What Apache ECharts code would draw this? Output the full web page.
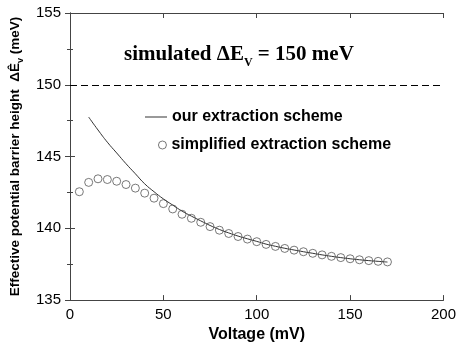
<!DOCTYPE html>
<html>
<head>
<meta charset="utf-8">
<script src="https://cdn.jsdelivr.net/npm/echarts@6/dist/echarts.min.js"></script>
<style>
  html, body { margin: 0; padding: 0; background: #fff; }
  #chart { width: 459px; height: 348px; }
</style>
</head>
<body>
<div id="chart"></div>
<script>
// Bias voltage (mV) and extracted barrier heights (meV)
const extractionVoltage = [10, 15, 20, 25, 30, 35, 40, 45, 50, 55, 60, 65, 70, 75, 80, 85, 90, 95, 100,
  105, 110, 115, 120, 125, 130, 135, 140, 145, 150, 155, 160, 165, 170];
const extractionBarrier = [147.75, 146.85, 146.0, 145.25, 144.5, 143.8, 143.1, 142.55, 142.05, 141.62,
  141.2, 140.85, 140.52, 140.2, 139.92, 139.68, 139.46, 139.27, 139.09,
  138.9, 138.75, 138.61, 138.49, 138.37, 138.26, 138.15, 138.05, 137.96, 137.88, 137.81, 137.75, 137.7, 137.65];

const simplifiedVoltage = [5, 10, 15, 20, 25, 30, 35, 40, 45, 50, 55, 60, 65, 70, 75, 80, 85, 90, 95, 100,
  105, 110, 115, 120, 125, 130, 135, 140, 145, 150, 155, 160, 165, 170];
const simplifiedBarrier = [142.55, 143.2, 143.45, 143.4, 143.28, 143.05, 142.8, 142.45, 142.1, 141.72,
  141.35, 140.98, 140.7, 140.42, 140.12, 139.87, 139.64, 139.43, 139.25, 139.07,
  138.88, 138.74, 138.6, 138.48, 138.37, 138.26, 138.15, 138.05, 137.96, 137.88, 137.81, 137.75, 137.7, 137.66];

const simulatedBarrier = 150;
const xTicks = { min: 0, max: 200, step: 50 };
const yTicks = { min: 135, max: 155, step: 5 };

const lineName = 'our extraction scheme';
const circleName = 'simplified extraction scheme';

const sans = 'Liberation Sans, Arial, Helvetica, sans-serif';
const serif = 'Liberation Serif, Times New Roman, serif';
const frameColor = '#444';
const curveColor = '#333';
const circleColor = '#444';

const pairs = (xs, ys) => xs.map((x, i) => [x, ys[i]]);

const chart = echarts.init(document.getElementById('chart'), null, { renderer: 'canvas' });

const frameAxis = {
  axisLine: { show: true, lineStyle: { color: frameColor, width: 1 } },
  axisTick: { show: true, inside: true, length: 5, lineStyle: { color: frameColor } },
  splitLine: { show: false }
};

const legendText = { fontFamily: sans, fontWeight: 'bold', fontSize: 16, color: '#000' };

chart.setOption({
  animation: false,
  backgroundColor: '#fff',
  title: {
    left: 119,
    top: 39,
    text: '{a|simulated \u0394E}{s|V}{a| = ' + simulatedBarrier + ' meV}',
    textStyle: {
      rich: {
        a: { fontFamily: serif, fontWeight: 'bold', fontSize: 21, color: '#000' },
        s: { fontFamily: serif, fontWeight: 'bold', fontSize: 12, color: '#000', verticalAlign: 'bottom', padding: [0, 0, -4, 0] }
      }
    }
  },
  grid: { left: 70, right: 12, top: 13, bottom: 46, containLabel: false },
  legend: [
    {
      data: [{ name: lineName, icon: 'rect', itemStyle: { color: curveColor, borderWidth: 0 } }],
      left: 145, top: 109, padding: 0,
      itemWidth: 22, itemHeight: 1,
      textStyle: legendText
    },
    {
      data: [{ name: circleName, icon: 'circle', itemStyle: { color: 'transparent', borderColor: circleColor, borderWidth: 0.9 } }],
      left: 158, top: 137, padding: 0,
      itemWidth: 8, itemHeight: 8,
      textStyle: legendText
    }
  ],
  xAxis: [
    Object.assign({
      type: 'value', position: 'bottom',
      min: xTicks.min, max: xTicks.max, interval: xTicks.step,
      axisLabel: { fontFamily: sans, fontSize: 15, color: '#000', margin: 7 },
      name: 'Voltage (mV)', nameLocation: 'middle', nameGap: 24,
      nameTextStyle: { fontFamily: sans, fontWeight: 'bold', fontSize: 16, color: '#000' }
    }, frameAxis),
    Object.assign({
      type: 'value', position: 'top',
      min: xTicks.min, max: xTicks.max, interval: xTicks.step,
      axisLabel: { show: false }
    }, frameAxis)
  ],
  yAxis: [
    Object.assign({
      type: 'value', position: 'left',
      min: yTicks.min, max: yTicks.max, interval: yTicks.step,
      minorTick: { show: true, splitNumber: 2, length: 3, lineStyle: { color: frameColor } },
      axisLabel: { fontFamily: sans, fontSize: 15, color: '#000', margin: 9 },
      name: '{a|Effective potential barrier height  \u0394\u00CA}{s|v}{a| (meV)}',
      nameLocation: 'middle', nameRotate: 90, nameGap: 48,
      nameTextStyle: {
        rich: {
          a: { fontFamily: sans, fontWeight: 'bold', fontSize: 13.5, color: '#000' },
          s: { fontFamily: sans, fontWeight: 'bold', fontSize: 9, color: '#000', verticalAlign: 'bottom', padding: [0, 0, -3, 0] }
        }
      }
    }, frameAxis),
    Object.assign({
      type: 'value', position: 'right',
      min: yTicks.min, max: yTicks.max, interval: yTicks.step,
      minorTick: { show: true, splitNumber: 2, length: 3, lineStyle: { color: frameColor } },
      axisLabel: { show: false }
    }, frameAxis)
  ],
  series: [
    {
      name: lineName,
      type: 'line',
      data: pairs(extractionVoltage, extractionBarrier),
      smooth: true,
      symbol: 'none',
      lineStyle: { color: curveColor, width: 1 },
      itemStyle: { color: curveColor },
      markLine: {
        silent: true,
        symbol: 'none',
        label: { show: false },
        lineStyle: { color: '#000', width: 1.2, type: [7, 4] },
        data: [{ yAxis: simulatedBarrier }]
      },
      z: 2
    },
    {
      name: circleName,
      type: 'scatter',
      data: pairs(simplifiedVoltage, simplifiedBarrier),
      symbol: 'circle',
      symbolSize: 8,
      itemStyle: { color: 'transparent', borderColor: circleColor, borderWidth: 0.9 },
      z: 3
    }
  ]
});
</script>
</body>
</html>
